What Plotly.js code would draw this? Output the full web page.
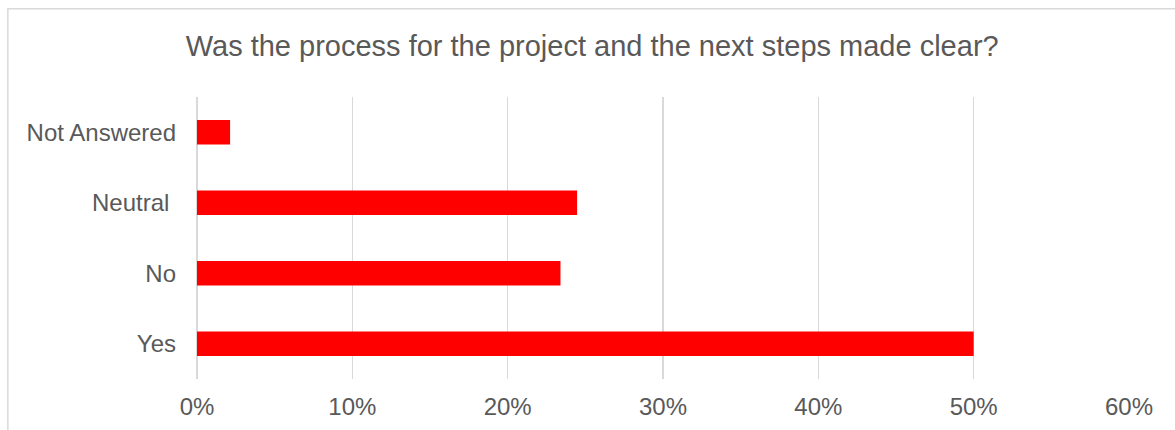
<!DOCTYPE html>
<html>
<head>
<meta charset="utf-8">
<script src="https://cdn.plot.ly/plotly-3.0.1.min.js"></script>
<style>
html,body{margin:0;padding:0;background:#fff;}
#chart{width:1175px;height:430px;}
</style>
</head>
<body>
<div id="chart"></div>
<script>
const categories = ["Yes", "No", "Neutral\u00a0", "Not Answered"];
const shares = [0.5, 0.234, 0.2447, 0.0213];
const tickValues = [0, 0.1, 0.2, 0.3, 0.4, 0.5, 0.6];
const tickLabels = ["0%", "10%", "20%", "30%", "40%", "50%", "60%"];
const chartTitle = "Was the process for the project and the next steps made clear?";

const L = 196.5, R = 46.3, T = 97, B = 51;
const W = 1175, H = 430;
const pw = W - L - R, ph = H - T - B;

const data = [{
  type: "bar",
  orientation: "h",
  y: categories,
  x: shares,
  marker: {color: "#ff0000"},
  hoverinfo: "none"
}];

const layout = {
  width: W, height: H,
  margin: {l: L, r: R, t: T, b: B, pad: 0},
  paper_bgcolor: "#fff",
  plot_bgcolor: "#fff",
  font: {family: "Liberation Sans, Arial, sans-serif", color: "#595959", size: 24},
  title: {
    text: chartTitle,
    font: {size: 29, color: "#595959", family: "Liberation Sans, Arial, sans-serif"},
    xref: "container", x: 0.504, xanchor: "center",
    yref: "container", y: 1 - 46/430, yanchor: "middle"
  },
  bargap: 0.65,
  showlegend: false,
  xaxis: {
    range: [0, 0.6],
    tickvals: tickValues,
    ticktext: tickLabels,
    showgrid: true,
    gridcolor: "#d9d9d9",
    gridwidth: 1.6,
    zeroline: true,
    zerolinecolor: "#d9d9d9",
    zerolinewidth: 1.6,
    showline: false,
    ticks: "",
    ticklabelstandoff: 11,
    tickfont: {size: 24, color: "#595959"},
    fixedrange: true
  },
  yaxis: {
    showgrid: false,
    zeroline: false,
    showline: false,
    ticks: "",
    ticklabelstandoff: 20,
    tickfont: {size: 24, color: "#595959"},
    fixedrange: true
  },
  shapes: [{
    type: "rect",
    xref: "paper", yref: "paper",
    x0: (7.3 - L) / pw, x1: (W + 10 - L) / pw,
    y0: (H - B - (H + 10)) / ph, y1: (H - B - 8.7) / ph,
    line: {color: "#d9d9d9", width: 1.5},
    fillcolor: "rgba(0,0,0,0)",
    layer: "below"
  }]
};

Plotly.newPlot("chart", data, layout, {displayModeBar: false, staticPlot: true});
</script>
</body>
</html>
